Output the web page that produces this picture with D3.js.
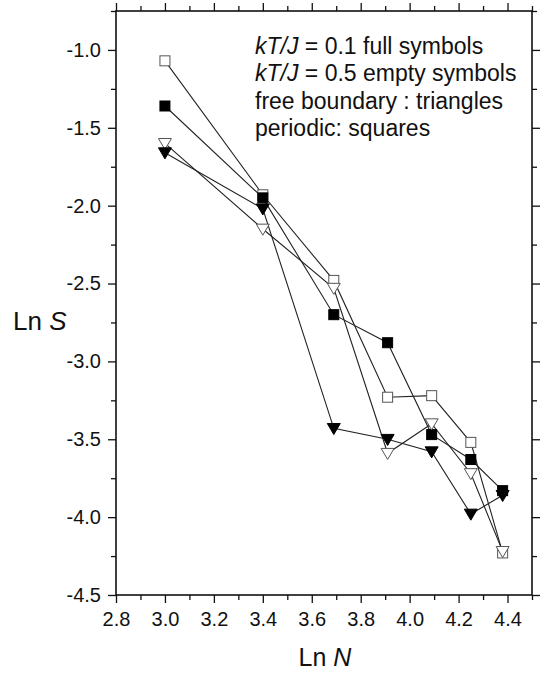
<!DOCTYPE html>
<html lang="en">
<head>
<meta charset="UTF-8">
<title>Ln S vs Ln N</title>
<script src="https://cdn.jsdelivr.net/npm/d3@7/dist/d3.min.js"></script>
<style>
    body { margin: 0; background: #fff; }
    text { font-family: Arial, "Liberation Sans", sans-serif; fill: #111; }
    .axis path { display: none; }
    .axis line { stroke: #111; stroke-width: 1.3; }
    .axis text { font-size: 20px; font-family: Arial, "Liberation Sans", sans-serif; fill: #111; }
</style>
</head>
<body>
<svg id="chart" width="545" height="674"></svg>
<script>
    // ln N for each lattice size
    const lnN = [3.0, 3.4, 3.69, 3.91, 4.09, 4.25, 4.38]

    // kT/J = 0.1 -> full symbols, kT/J = 0.5 -> empty symbols
    const fullSquares    = [-1.36, -1.95, -2.70, -2.88, -3.47, -3.63, -3.83]
    const emptySquares   = [-1.07, -1.93, -2.48, -3.23, -3.22, -3.52, -4.23]
    const fullTriangles  = [-1.66, -2.02, -3.43, -3.50, -3.58, -3.98, -3.86]
    const emptyTriangles = [-1.60, -2.15, -2.53, -3.59, -3.40, -3.72, -4.22]

    const xTicks = [2.8, 3.0, 3.2, 3.4, 3.6, 3.8, 4.0, 4.2, 4.4]
    const xMinor = [2.9, 3.1, 3.3, 3.5, 3.7, 3.9, 4.1, 4.3, 4.5]
    const yTicks = [-4.5, -4.0, -3.5, -3.0, -2.5, -2.0, -1.5, -1.0]
    const yMinor = [-4.25, -3.75, -3.25, -2.75, -2.25, -1.75, -1.25, -0.75]

    const legendLines = [
        ['kT/J', ' = 0.1 full symbols'],
        ['kT/J', ' = 0.5 empty symbols'],
        ['', 'free boundary : triangles'],
        ['', 'periodic: squares']
    ]

    const svg = d3.select('#chart')
    const margin = { left: 116, top: 11, right: 13, bottom: 79 }
    const width = 545 - margin.left - margin.right
    const height = 674 - margin.top - margin.bottom

    const x = d3.scaleLinear().domain([2.8, 4.5]).range([0, width])
    const y = d3.scaleLinear().domain([-4.5, -0.75]).range([height, 0])

    const g = svg.append('g').attr('transform', `translate(${margin.left},${margin.top})`)

    const fmt = d3.format('.1f')
    const addAxis = (axisFn, scale, vals, size, tf, pad) => {
        const a = axisFn(scale).tickValues(vals).tickSize(size).tickPadding(pad || 3)
        if (!pad) a.tickFormat('')
        else a.tickFormat(d => fmt(d).replace('−', '-'))
        return g.append('g').attr('class', 'axis').attr('transform', tf).call(a)
    }

    addAxis(d3.axisBottom, x, xTicks, 8, `translate(0,${height})`, 9)
    addAxis(d3.axisBottom, x, xMinor, 5, `translate(0,${height})`)
    addAxis(d3.axisTop, x, xTicks, 8, 'translate(0,0)')
    addAxis(d3.axisTop, x, xMinor, 5, 'translate(0,0)')
    addAxis(d3.axisLeft, y, yTicks, 8, 'translate(0,0)', 7)
    addAxis(d3.axisLeft, y, yMinor, 5, 'translate(0,0)')
    addAxis(d3.axisRight, y, yTicks, 8, `translate(${width},0)`)
    addAxis(d3.axisRight, y, yMinor, 5, `translate(${width},0)`)

    // frame
    g.append('rect')
        .attr('width', width).attr('height', height)
        .attr('fill', 'none').attr('stroke', '#111').attr('stroke-width', 1.6)

    const line = d3.line().x((d, i) => x(lnN[i])).y(d => y(d))

    const series = [
        { vals: emptySquares, shape: 'square', filled: false },
        { vals: fullSquares, shape: 'square', filled: true },
        { vals: emptyTriangles, shape: 'triangle', filled: false },
        { vals: fullTriangles, shape: 'triangle', filled: true }
    ]

    series.forEach(s => {
        g.append('path').datum(s.vals)
            .attr('d', line)
            .attr('fill', 'none')
            .attr('stroke', '#222')
            .attr('stroke-width', 1.1)
    })

    const triPath = r => `M${-r},${-r * 0.75}L${r},${-r * 0.75}L0,${r * 0.95}Z`

    series.forEach(s => {
        const pts = g.append('g')
        s.vals.forEach((v, i) => {
            const px = x(lnN[i]), py = y(v)
            if (s.shape === 'square') {
                pts.append('rect')
                    .attr('x', px - 5).attr('y', py - 5)
                    .attr('width', 10).attr('height', 10)
                    .attr('fill', s.filled ? '#000' : '#fff')
                    .attr('stroke', s.filled ? '#000' : '#555')
                    .attr('stroke-width', 1)
            } else {
                pts.append('path')
                    .attr('d', triPath(6.5))
                    .attr('transform', `translate(${px},${py})`)
                    .attr('fill', s.filled ? '#000' : '#fff')
                    .attr('stroke', s.filled ? '#000' : '#555')
                    .attr('stroke-width', 1)
            }
        })
    })

    // legend text
    const leg = svg.append('g')
    legendLines.forEach((l, i) => {
        const t = leg.append('text')
            .attr('x', 255).attr('y', 54 + i * 27.3)
            .style('font-size', '23px')
        if (l[0]) t.append('tspan').style('font-style', 'italic').text(l[0])
        t.append('tspan').text(l[1])
    })

    // axis titles
    const yt = svg.append('text').attr('x', 13).attr('y', 330).style('font-size', '26px')
    yt.append('tspan').text('Ln ')
    yt.append('tspan').style('font-style', 'italic').text('S')

    const xt = svg.append('text').attr('x', 325).attr('y', 666)
        .attr('text-anchor', 'middle').style('font-size', '25px')
    xt.append('tspan').text('Ln ')
    xt.append('tspan').style('font-style', 'italic').text('N')
</script>
</body>
</html>
